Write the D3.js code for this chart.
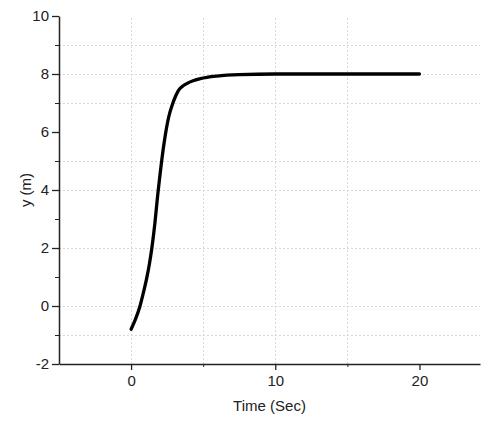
<!DOCTYPE html>
<html>
<head>
<meta charset="utf-8">
<script src="https://cdn.jsdelivr.net/npm/d3@7"></script>
<style>
  body { margin: 0; background: #fff; }
  text { font-family: "Liberation Sans", Arial, sans-serif; fill: #222; }
</style>
</head>
<body>
<div class="chart"></div>
<script>
// time (s) and response y (m)
var timeVals = [0, 0.3, 0.62, 0.85, 1.08, 1.27, 1.44, 1.65, 1.84, 2.0, 2.12, 2.36, 2.6, 2.9, 3.1, 3.28, 3.55, 3.86, 4.3, 4.8, 5.95, 7.5, 10, 15, 20];
var yVals    = [-0.8, -0.46, 0, 0.45, 0.95, 1.45, 2.0, 2.85, 3.8, 4.5, 5.0, 5.85, 6.5, 7.0, 7.25, 7.43, 7.57, 7.67, 7.77, 7.84, 7.93, 7.98, 8.0, 8.0, 8.0];
var xMajor = [0, 10, 20];
var xMinor = [5, 15];
var yMajor = [-2, 0, 2, 4, 6, 8, 10];
var yMinor = [-1, 1, 3, 5, 7, 9];
var xGrid = [0, 5, 10, 15];
var yGrid = [-1, 0, 2, 4, 5, 7, 8, 9];

var width = 488,
    height = 421;

var svg = d3.select(".chart").append("svg")
    .attr("width", width)
    .attr("height", height);

var x = d3.scaleLinear().domain([-5, 24.2]).range([59, 480]);
var y = d3.scaleLinear().domain([-2, 10]).range([364, 16]);

// grid
var grid = svg.append("g").attr("class", "grid")
    .attr("stroke", "#d6d6d6")
    .attr("stroke-width", 1)
    .attr("stroke-dasharray", "2,2");
grid.selectAll(".hg")
    .data(yGrid)
    .enter().append("line")
    .attr("x1", x(-5)).attr("x2", x(24.2))
    .attr("y1", function(d) { return Math.round(y(d)) + 0.5; })
    .attr("y2", function(d) { return Math.round(y(d)) + 0.5; });
grid.selectAll(".vg")
    .data(xGrid)
    .enter().append("line")
    .attr("y1", y(-2)).attr("y2", y(10))
    .attr("x1", function(d) { return Math.round(x(d)) + 0.5; })
    .attr("x2", function(d) { return Math.round(x(d)) + 0.5; });

// axes
var fmt = function(d) { return String(d); };
var xAxis = svg.append("g")
    .attr("transform", "translate(0," + y(-2) + ")")
    .call(d3.axisBottom(x).tickValues(xMajor).tickSize(6).tickSizeOuter(0).tickPadding(5).tickFormat(fmt));
xAxis.append("g").selectAll("line")
    .data(xMinor)
    .enter().append("line")
    .attr("x1", function(d) { return x(d) + 0.5; })
    .attr("x2", function(d) { return x(d) + 0.5; })
    .attr("y1", 0).attr("y2", 3)
    .attr("stroke", "#222");

var yAxis = svg.append("g")
    .attr("transform", "translate(" + x(-5) + ",0)")
    .call(d3.axisLeft(y).tickValues(yMajor).tickSize(7).tickSizeOuter(0).tickPadding(3).tickFormat(fmt));
yAxis.append("g").selectAll("line")
    .data(yMinor)
    .enter().append("line")
    .attr("y1", function(d) { return y(d) + 0.5; })
    .attr("y2", function(d) { return y(d) + 0.5; })
    .attr("x1", 0).attr("x2", -4)
    .attr("stroke", "#222");

svg.selectAll(".domain").attr("stroke", "#222").attr("stroke-width", 1.5);
svg.selectAll(".tick line").attr("stroke", "#222").attr("stroke-width", 1.3);
svg.selectAll(".tick text").attr("font-size", 15).attr("fill", "#222")
    .style("font-family", "'Liberation Sans', Arial, sans-serif");

// axis titles
svg.append("text")
    .attr("x", (x(-5) + x(24.2)) / 2)
    .attr("y", 411)
    .attr("text-anchor", "middle")
    .attr("font-size", 15)
    .text("Time (Sec)");
svg.append("text")
    .attr("transform", "translate(31," + (y(-2) + y(10)) / 2 + ") rotate(-90)")
    .attr("text-anchor", "middle")
    .attr("font-size", 15)
    .text("y (m)");

// curve
var line = d3.line()
    .x(function(d, i) { return x(timeVals[i]); })
    .y(function(d) { return y(d); })
    .curve(d3.curveMonotoneX);
svg.append("path")
    .datum(yVals)
    .attr("fill", "none")
    .attr("stroke", "#000")
    .attr("stroke-width", 3.3)
    .attr("stroke-linecap", "round")
    .attr("d", line);
</script>
</body>
</html>
